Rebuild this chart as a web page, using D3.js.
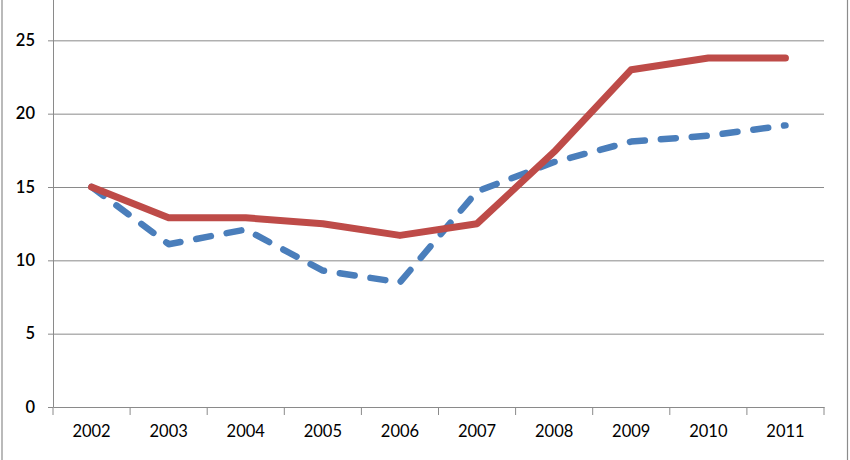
<!DOCTYPE html>
<html>
<head>
<meta charset="utf-8">
<script src="https://cdn.jsdelivr.net/npm/d3@7"></script>
<style>
  body { margin: 0; background: #fff; }
  text { font-family: Lato, "Liberation Sans", sans-serif; fill: #000; }
</style>
</head>
<body>
<div id="chart"></div>
<script>
var years = ["2002", "2003", "2004", "2005", "2006", "2007", "2008", "2009", "2010", "2011"];
var redValues = [15.0, 12.9, 12.9, 12.5, 11.7, 12.5, 17.4, 23.0, 23.8, 23.8];
var blueValues = [15.0, 11.1, 12.1, 9.3, 8.5, 14.7, 16.7, 18.1, 18.5, 19.2];
var yTicks = [0, 5, 10, 15, 20, 25];

var svgWidth = 850;
var svgHeight = 460;

var margin = { top: -33, right: 26, bottom: 53, left: 53 };
var width = svgWidth - margin.left - margin.right;
var height = svgHeight - margin.top - margin.bottom;

var svg = d3.select("#chart")
  .append("svg")
  .attr("width", svgWidth)
  .attr("height", svgHeight);

// chart area border (left and right edges visible)
svg.append("line").attr("x1", 2).attr("x2", 2).attr("y1", 0).attr("y2", svgHeight)
  .attr("stroke", "#8c8c8c").attr("stroke-width", 1.2);
svg.append("line").attr("x1", 847.5).attr("x2", 847.5).attr("y1", 0).attr("y2", svgHeight)
  .attr("stroke", "#8c8c8c").attr("stroke-width", 1.2);

var chartGroup = svg.append("g")
  .attr("transform", `translate(${margin.left}, ${margin.top})`);

var xScale = d3.scaleBand()
  .domain(years)
  .range([0, width])
  .padding(0);

// top of the plot runs past the window, axis max is 30
var yScale = d3.scaleLinear()
  .domain([0, 30])
  .range([height, 0]);

// gridlines
var grid = chartGroup.append("g")
  .call(d3.axisLeft(yScale).tickValues(yTicks.filter(d => d > 0)).tickSize(-width).tickFormat(""));
grid.select(".domain").remove();
grid.selectAll("line").attr("stroke", "#8a8a8a").attr("stroke-width", 1);

// y axis
var yAxis = chartGroup.append("g")
  .call(d3.axisLeft(yScale).tickValues(yTicks).tickSize(5).tickSizeOuter(0).tickPadding(13));
yAxis.select(".domain").attr("stroke", "#8a8a8a");
yAxis.selectAll("line").attr("stroke", "#8a8a8a");
yAxis.selectAll("text").style("font-size", "16.5px").style("font-weight", "600");

// x axis
var xAxis = chartGroup.append("g")
  .attr("transform", `translate(0, ${height})`)
  .call(d3.axisBottom(xScale).tickSize(0).tickPadding(18));
xAxis.select(".domain").attr("stroke", "#8a8a8a");
xAxis.selectAll("text").style("font-size", "16.5px");

// boundary tick marks between categories
var bounds = years.map(d => xScale(d)).concat([width]);
xAxis.selectAll(".btick")
  .data(bounds)
  .enter()
  .append("line")
  .attr("x1", d => d)
  .attr("x2", d => d)
  .attr("y1", 0)
  .attr("y2", 8)
  .attr("stroke", "#8a8a8a");

var lineGen = d3.line()
  .x((d, i) => xScale(years[i]) + xScale.bandwidth() / 2)
  .y(d => yScale(d));

chartGroup.append("path")
  .datum(blueValues)
  .attr("d", lineGen)
  .attr("fill", "none")
  .attr("stroke", "#4a7ebb")
  .attr("stroke-width", 6.5)
  .attr("stroke-dasharray", "15 16")
  .attr("stroke-linecap", "round")
  .attr("stroke-linejoin", "round");

chartGroup.append("path")
  .datum(redValues)
  .attr("d", lineGen)
  .attr("fill", "none")
  .attr("stroke", "#be4b48")
  .attr("stroke-width", 7)
  .attr("stroke-linecap", "round")
  .attr("stroke-linejoin", "round");
</script>
</body>
</html>
